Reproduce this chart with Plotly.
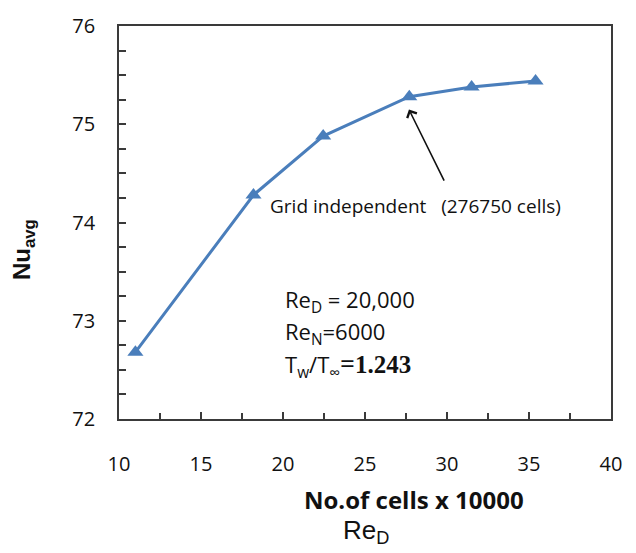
import plotly.graph_objects as go

cells = [11.0, 18.2, 22.45, 27.7, 31.5, 35.4]
nu_avg = [72.68, 74.28, 74.88, 75.28, 75.38, 75.44]

x_ticks = [10, 15, 20, 25, 30, 35, 40]
y_ticks = [72, 73, 74, 75, 76]

FONT = "Open Sans"
TXT = "#111111"

fig = go.Figure()
fig.add_trace(go.Scatter(
    x=cells, y=nu_avg, mode="lines+markers",
    line=dict(color="#4A7EBB", width=3),
    marker=dict(symbol="triangle-up", size=14, color="#4A7EBB"),
    showlegend=False, cliponaxis=False,
))

axis_common = dict(
    showgrid=False, zeroline=False, showline=True, linecolor="#3a3a3a",
    linewidth=1.8, mirror=True, ticks="inside", tickcolor="#3a3a3a",
    tickwidth=1.5, ticklen=7,
    tickfont=dict(family=FONT, size=20, color=TXT),
)

fig.update_xaxes(range=[10, 40], tickvals=x_ticks,
                 minor=dict(dtick=2.5, ticks="inside", ticklen=6, tickcolor="#3a3a3a", tickwidth=1.5),
                 ticklabelstandoff=26, **axis_common)
fig.update_yaxes(range=[72, 76], tickvals=y_ticks,
                 minor=dict(dtick=0.25, ticks="inside", ticklen=7, tickcolor="#3a3a3a", tickwidth=1.5),
                 ticklabelstandoff=18, **axis_common)

ann = []
# arrow
ann.append(dict(x=27.68, y=75.15, ax=29.87, ay=74.41, xref="x", yref="y", axref="x", ayref="y",
                showarrow=True, arrowhead=4, arrowsize=1.3, arrowwidth=1.6, arrowcolor="#111111", text=""))
ann.append(dict(x=19.07, y=74.17, xref="x", yref="y", xanchor="left", yanchor="middle",
                text="Grid independent &nbsp;&nbsp;(276750 cells)", showarrow=False,
                font=dict(family=FONT, size=19, color=TXT)))
ann.append(dict(x=19.97, y=73.2, xref="x", yref="y", xanchor="left", yanchor="middle",
                text="Re<sub>D</sub> = 20,000", showarrow=False,
                font=dict(family=FONT, size=22, color=TXT)))
ann.append(dict(x=19.97, y=72.88, xref="x", yref="y", xanchor="left", yanchor="middle",
                text="Re<sub>N</sub>=6000", showarrow=False,
                font=dict(family=FONT, size=22, color=TXT)))
ann.append(dict(x=19.97, y=72.56, xref="x", yref="y", xanchor="left", yanchor="middle",
                text="T<sub>w</sub>/T<sub>∞</sub><span style=\"font-size:26px\">=</span><span style=\"font-family:'Liberation Serif';font-weight:bold;font-size:25px\">1.243</span>",
                showarrow=False, font=dict(family=FONT, size=22, color=TXT)))
# axis titles
ann.append(dict(x=0.599, y=-0.204, xref="paper", yref="paper", xanchor="center", yanchor="middle",
                text="<b>No.of cells x 10000</b>", showarrow=False,
                font=dict(family=FONT, size=24, color=TXT)))
ann.append(dict(x=0.503, y=-0.285, xref="paper", yref="paper", xanchor="center", yanchor="middle",
                text="Re<sub>D</sub>", showarrow=False,
                font=dict(family="Liberation Sans", size=26, color=TXT)))
ann.append(dict(x=-0.195, y=0.43, xref="paper", yref="paper", xanchor="center", yanchor="middle",
                text="<b>Nu<sub>avg</sub></b>", showarrow=False, textangle=-90,
                font=dict(family="Liberation Sans", size=24, color=TXT)))

fig.update_layout(
    width=636, height=553,
    margin=dict(l=119, r=25, t=18, b=134),
    paper_bgcolor="white", plot_bgcolor="white",
    annotations=ann,
)

fig.write_html("out.html")
